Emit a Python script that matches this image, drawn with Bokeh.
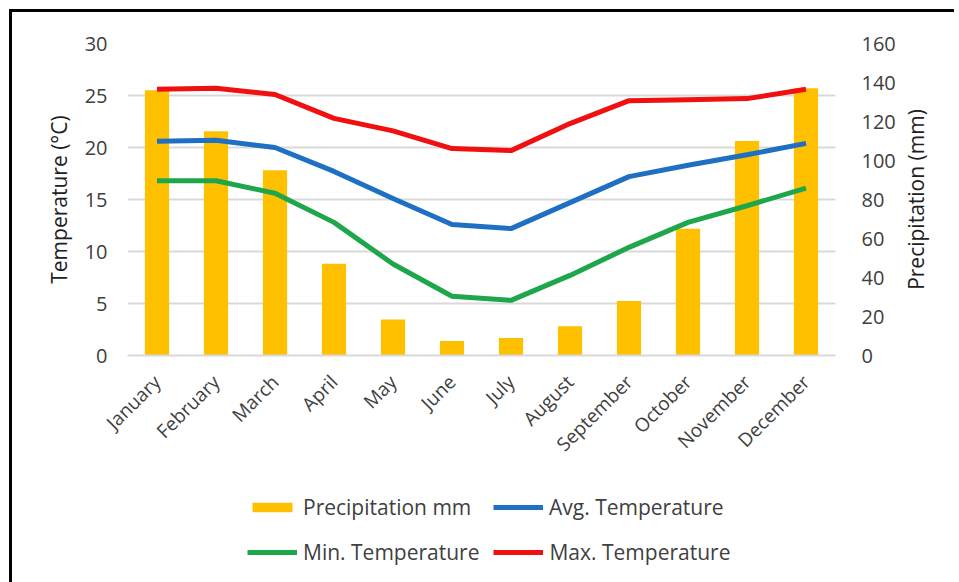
from bokeh.plotting import figure
from bokeh.models import (Range1d, LinearAxis, FixedTicker, Legend, LegendItem, FactorRange,
                          Spacer, Label)
from bokeh.layouts import column, row
from bokeh.embed import file_html
from bokeh.resources import INLINE
import math

months = ["January", "February", "March", "April", "May", "June", "July",
          "August", "September", "October", "November", "December"]
precipitation = [136, 115, 95, 47, 18.5, 7.5, 9, 15, 28, 65, 110, 137]
avg_temp = [20.6, 20.7, 20.0, 17.7, 15.1, 12.6, 12.2, 14.7, 17.2, 18.3, 19.3, 20.4]
min_temp = [16.8, 16.8, 15.6, 12.8, 8.8, 5.7, 5.3, 7.7, 10.4, 12.8, 14.4, 16.1]
max_temp = [25.6, 25.7, 25.1, 22.8, 21.6, 19.9, 19.7, 22.3, 24.5, 24.6, 24.7, 25.6]
temp_ticks = [0, 5, 10, 15, 20, 25, 30]
precip_ticks = [0, 20, 40, 60, 80, 100, 120, 140, 160]
series_labels = ["Precipitation mm", "Avg. Temperature", "Min. Temperature", "Max. Temperature"]
right_title = "Precipitation (mm)"

FONT = "Open Sans"
TXT = "#404040"
C_BAR, C_AVG, C_MIN, C_MAX = "#FFC000", "#1F6FC2", "#1EA64A", "#F01010"

p = figure(width=893, height=458, x_range=FactorRange(*months), y_range=Range1d(0, 30),
           output_backend="svg", toolbar_location=None,
           min_border_left=115, min_border_right=70, min_border_top=31, min_border_bottom=115)
p.extra_y_ranges = {"precip": Range1d(0, 160)}
p.outline_line_color = None
p.styles = {"border-left": "3px solid black", "border-top": "3px solid black"}

p.vbar(x=months, top=precipitation, width=0.41, y_range_name="precip",
       fill_color=C_BAR, line_color=None)
p.line(months, avg_temp, line_color=C_AVG, line_width=5)
p.line(months, min_temp, line_color=C_MIN, line_width=5)
p.line(months, max_temp, line_color=C_MAX, line_width=5)

# grid
p.xgrid.grid_line_color = None
p.ygrid.ticker = FixedTicker(ticks=temp_ticks)
p.ygrid.grid_line_color = "#D9D9D9"
p.ygrid.grid_line_width = 2

# left axis
ax = p.yaxis[0]
ax.ticker = FixedTicker(ticks=temp_ticks)
ax.axis_label = "Temperature (°C)"
# right axis (its title is drawn in the strip to its right, reading upwards)
rax = LinearAxis(y_range_name="precip", ticker=FixedTicker(ticks=precip_ticks))
p.add_layout(rax, "right")

for a in [ax, rax]:
    a.axis_line_color = None
    a.major_tick_line_color = None
    a.minor_tick_line_color = None
    a.major_label_text_font = FONT
    a.major_label_text_font_size = "20px"
    a.major_label_text_color = TXT
ax.axis_label_text_font = FONT
ax.axis_label_text_font_size = "21px"
ax.axis_label_text_font_style = "normal"
ax.axis_label_text_color = "#202020"
ax.major_label_standoff = 14
rax.major_label_standoff = 20
ax.axis_label_standoff = 9

xa = p.xaxis[0]
xa.axis_line_color = "#D9D9D9"
xa.axis_line_width = 2
xa.major_tick_line_color = None
xa.minor_tick_line_color = None
xa.major_label_orientation = math.pi / 4
xa.major_label_text_font = FONT
xa.major_label_text_font_size = "19px"
xa.major_label_text_color = TXT
xa.major_label_standoff = 17

# narrow strip holding the right axis title
tf = figure(width=52, height=458, x_range=Range1d(0, 52), y_range=Range1d(0, 30),
            output_backend="svg", toolbar_location=None,
            x_axis_location=None, y_axis_location=None,
            min_border_left=0, min_border_right=0, min_border_top=31, min_border_bottom=115)
tf.outline_line_color = None
tf.xgrid.grid_line_color = None
tf.ygrid.grid_line_color = None
tf.styles = {"border-top": "3px solid black"}
tf.add_layout(Label(x=13, y=15, text=right_title, angle=math.pi / 2,
                    text_align="center", text_baseline="middle",
                    text_font=FONT, text_font_size="21px", text_color="#202020"))

# legend strip below the chart
lp = figure(width=945, height=117, x_range=Range1d(0, 1), y_range=Range1d(0, 1),
            output_backend="svg", toolbar_location=None,
            x_axis_location=None, y_axis_location=None,
            min_border_left=115, min_border_right=0, min_border_top=0, min_border_bottom=0)
lp.outline_line_color = None
lp.xgrid.grid_line_color = None
lp.ygrid.grid_line_color = None
lp.styles = {"border-left": "3px solid black"}

nan = float("nan")
r_bar = lp.vbar(x=[nan], top=[nan], width=0.1, fill_color=C_BAR, line_color=None)
r_avg = lp.line(x=[nan], y=[nan], line_color=C_AVG, line_width=5)
r_min = lp.line(x=[nan], y=[nan], line_color=C_MIN, line_width=5)
r_max = lp.line(x=[nan], y=[nan], line_color=C_MAX, line_width=5)

def make_legend(items, loc):
    lg = Legend(items=items, orientation="horizontal", location=loc,
                glyph_width=50, glyph_height=12, label_width=176, label_height=20,
                spacing=14, label_standoff=6, padding=0, margin=0,
                border_line_alpha=0, background_fill_alpha=0,
                label_text_font=FONT, label_text_font_size="21px", label_text_color=TXT)
    lp.add_layout(lg, "center")

make_legend([LegendItem(label=series_labels[0], renderers=[r_bar]),
             LegendItem(label=series_labels[1], renderers=[r_avg])], (120, 63))
make_legend([LegendItem(label=series_labels[2], renderers=[r_min]),
             LegendItem(label=series_labels[3], renderers=[r_max])], (120, 18))

layout = column(Spacer(height=9),
                row(Spacer(width=9), column(row(p, tf, spacing=0), lp, spacing=0)))
open("out.html", "w").write(file_html(layout, INLINE))
